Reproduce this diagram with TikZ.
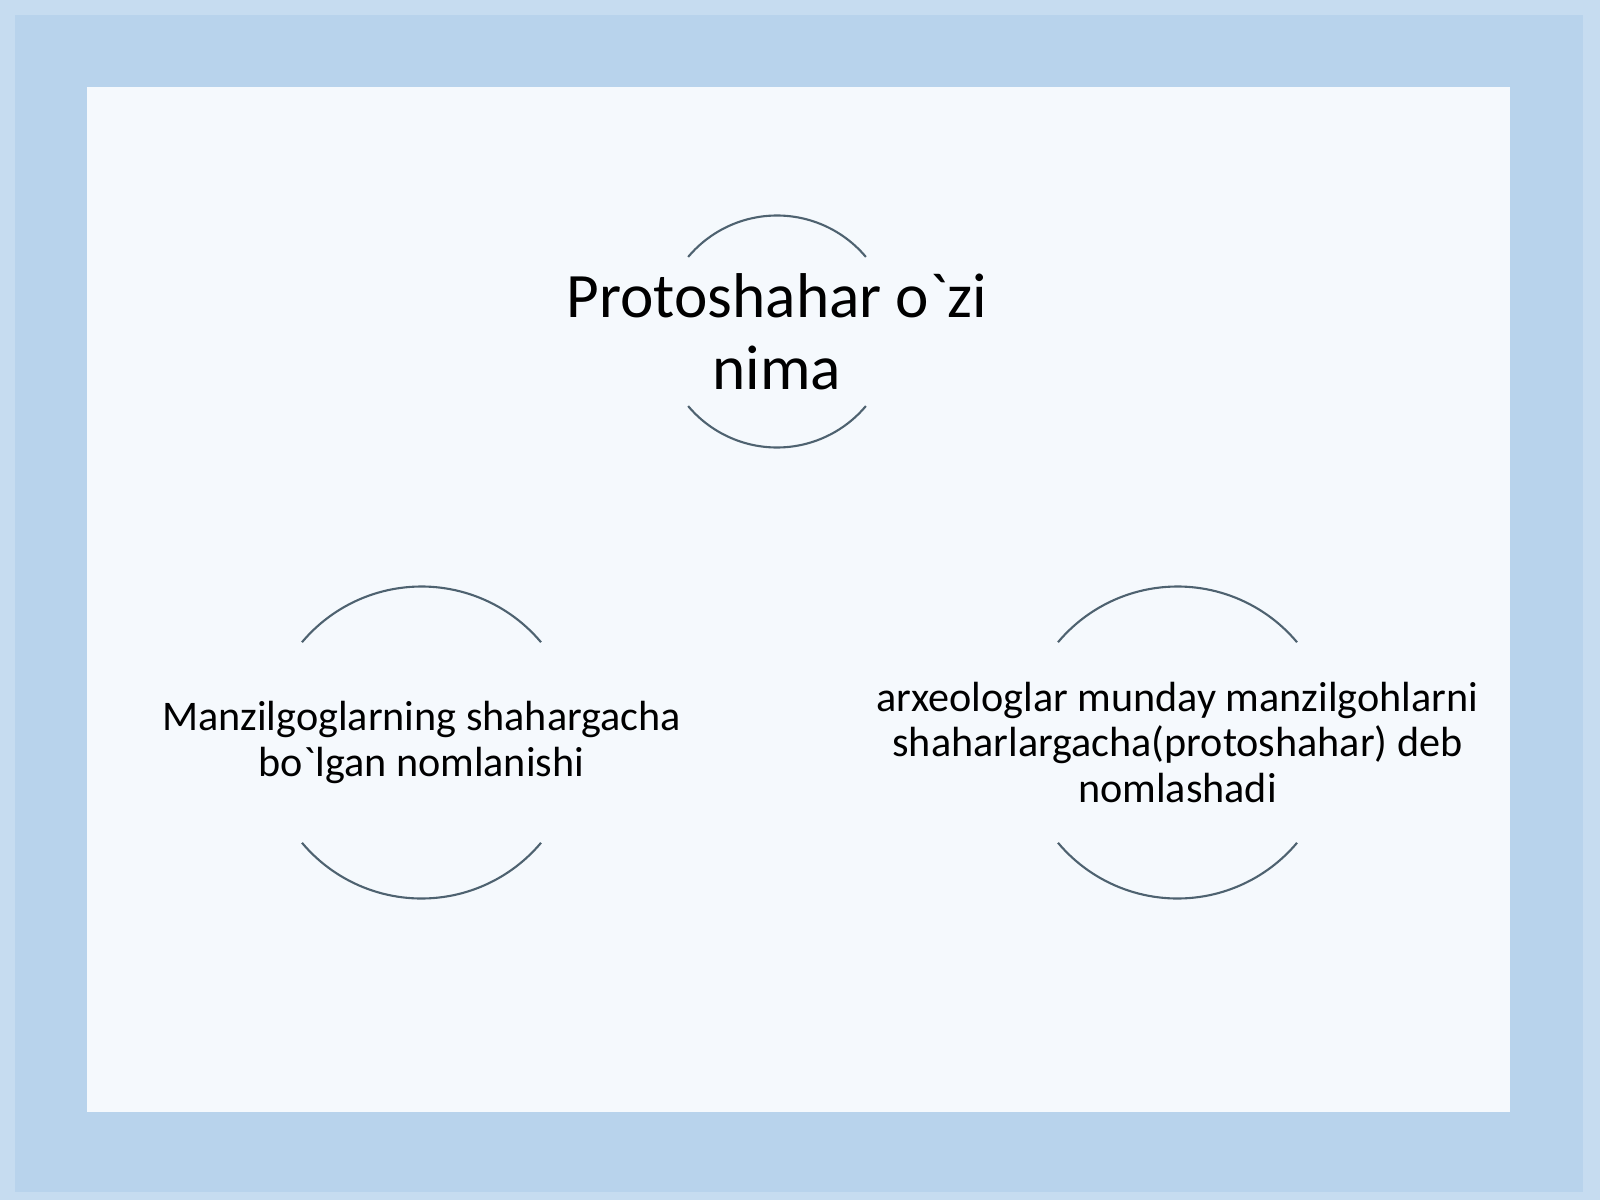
\documentclass[tikz,border=0pt]{standalone}
\usepackage{fontspec}
\setmainfont{Carlito}
\usepackage{tikz}
\usetikzlibrary{positioning}

\definecolor{frameblue}{RGB}{184,211,236}
\definecolor{edgeblue}{RGB}{198,220,240}
\definecolor{pagewhite}{RGB}{245,249,253}
\definecolor{arcgrey}{RGB}{78,98,112}

\begin{document}
\begin{tikzpicture}[
        ringarc/.style={draw=arcgrey, line width=0.6pt},
        bigtext/.style={align=center, font=\fontsize{18}{20.5}\selectfont},
        smalltext/.style={align=center, font=\fontsize{12}{13}\selectfont}
    ]
        % slide background
        \fill[edgeblue] (0,0) rectangle (16,12);
        \fill[frameblue] (0.15,0.08) rectangle (15.83,11.85);
        \fill[pagewhite] (0.87,0.88) rectangle (15.1,11.13);
        \useasboundingbox (0,0) rectangle (16,12);

        \node (top) [bigtext] at (7.77,8.685) {Protoshahar o\textasciigrave{}zi\\nima};
        \node (left) [smalltext] at (4.215,4.575) {Manzilgoglarning shahargacha\\bo\textasciigrave{}lgan nomlanishi};
        \node (right) [smalltext] at (11.775,4.575) {arxeologlar munday manzilgohlarni\\shaharlargacha(protoshahar) deb\\nomlashadi};

        \draw[ringarc] ([shift={(40:1.16)}]top.center) arc (40:140:1.16);
        \draw[ringarc] ([shift={(220:1.16)}]top.center) arc (220:320:1.16);
        \draw[ringarc] ([shift={(40:1.56)}]left.center) arc (40:140:1.56);
        \draw[ringarc] ([shift={(220:1.56)}]left.center) arc (220:320:1.56);
        \draw[ringarc] ([shift={(40:1.56)}]right.center) arc (40:140:1.56);
        \draw[ringarc] ([shift={(220:1.56)}]right.center) arc (220:320:1.56);
    \end{tikzpicture}
\end{document}
